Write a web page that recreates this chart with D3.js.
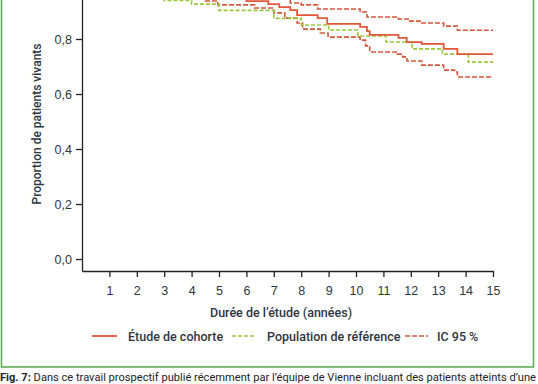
<!DOCTYPE html>
<html>
<head>
<meta charset="utf-8">
<script src="https://cdn.jsdelivr.net/npm/d3@7"></script>
<style>
  body { margin: 0; background: #fff; }
  svg { display: block; font-family: Roboto, "Noto Sans", sans-serif; }
</style>
</head>
<body>
<script>
// Courbes de survie (escaliers) : temps en années, proportion de patients vivants
const cohortT = [0, 2.0, 4.0, 6.0, 6.8, 7.2, 7.6, 7.85, 8.6, 8.95, 10.15, 10.4, 10.5, 11.55, 11.85, 12.4, 13.2, 13.7, 15];
const cohortV = [1.0, 0.98, 0.96, 0.938, 0.927, 0.916, 0.905, 0.887, 0.876, 0.855, 0.844, 0.829, 0.815, 0.804, 0.789, 0.782, 0.764, 0.745, 0.745];

const refT = [0, 1.5, 3.0, 4.0, 5.0, 7.0, 8.0, 9.0, 10.07, 11.1, 12.05, 13.15, 14.1, 15];
const refV = [1.0, 0.97, 0.94, 0.927, 0.904, 0.875, 0.851, 0.833, 0.811, 0.789, 0.764, 0.745, 0.716, 0.716];

const upperT = [0, 3.0, 6.0, 7.6, 8.0, 8.6, 10.15, 10.4, 11.55, 11.9, 12.4, 13.2, 13.7, 15];
const upperV = [1.0, 0.99, 0.97, 0.931, 0.924, 0.909, 0.898, 0.880, 0.873, 0.865, 0.858, 0.847, 0.832, 0.832];

const lowerT = [0, 1.5, 3.0, 4.5, 4.96, 6.3, 7.0, 7.4, 7.85, 8.05, 8.7, 8.98, 10.15, 10.35, 10.5, 11.5, 11.7, 11.86, 12.4, 13.2, 13.6, 13.7, 15];
const lowerV = [1.0, 0.975, 0.955, 0.938, 0.924, 0.913, 0.895, 0.876, 0.858, 0.836, 0.822, 0.807, 0.796, 0.775, 0.753, 0.745, 0.735, 0.720, 0.705, 0.687, 0.680, 0.662, 0.662];

const xTicks = [1, 2, 3, 4, 5, 6, 7, 8, 9, 10, 11, 12, 13, 14, 15];
const yTicks = [0, 0.2, 0.4, 0.6, 0.8];

const legendLabels = ["Étude de cohorte", "Population de référence", "IC 95 %"];

const width = 538, height = 384;
const red = "#e2563a", redDash = "#d4573b", green = "#9cc63c", textCol = "#2e3640";

const svg = d3.select("body").append("svg")
  .attr("width", width)
  .attr("height", height);

// cadre vert
svg.append("rect")
  .attr("x", 1.5).attr("y", -20)
  .attr("width", 532).attr("height", 387)
  .attr("fill", "none")
  .attr("stroke", "#5fae55")
  .attr("stroke-width", 1.6);

const x = d3.scaleLinear().domain([0, 15]).range([82, 493]);
const y = d3.scaleLinear().domain([-0.0436, 1.0]).range([271, -16]);

const xAxis = svg.append("g")
  .attr("transform", "translate(0,271)")
  .call(d3.axisBottom(x).tickValues(xTicks).tickSize(6).tickSizeOuter(0).tickPadding(9));

const yAxis = svg.append("g")
  .attr("transform", "translate(82,0)")
  .call(d3.axisLeft(y).tickValues(yTicks).tickSize(6).tickSizeOuter(0).tickPadding(4)
    .tickFormat(d => d3.format(".1f")(d).replace(".", ",")));

[xAxis, yAxis].forEach(g => {
  g.selectAll("path, line").attr("stroke", "#222").attr("stroke-width", 1.3);
  g.selectAll("text").attr("fill", textCol).style("font-size", "12.5px").style("font-weight", 500);
});

svg.append("text")
  .attr("transform", "translate(41,124) rotate(-90)")
  .attr("text-anchor", "middle")
  .attr("fill", textCol)
  .style("font-size", "12px")
  .style("font-weight", 500)
  .text("Proportion de patients vivants");

svg.append("text")
  .attr("x", 281).attr("y", 317)
  .attr("text-anchor", "middle")
  .attr("fill", textCol)
  .style("font-size", "12.5px")
  .style("font-weight", 500)
  .text("Durée de l’étude (années)");

const line = d3.line()
  .x(d => x(d[0]))
  .y(d => y(d[1]))
  .curve(d3.curveStepAfter);

const plot = svg.append("g");

function drawCurve(T, V, color, widthPx, dash) {
  plot.append("path")
    .datum(T.map((t, i) => [t, V[i]]))
    .attr("d", line)
    .attr("fill", "none")
    .attr("stroke", color)
    .attr("stroke-width", widthPx)
    .attr("stroke-dasharray", dash);
}

drawCurve(upperT, upperV, redDash, 1.6, "5,2");
drawCurve(lowerT, lowerV, redDash, 1.6, "5,2");
drawCurve(refT, refV, green, 1.6, "4,2");
drawCurve(cohortT, cohortV, red, 1.8, null);

// légende
const legend = [
  {x1: 92, x2: 117, tx: 128, color: red, dash: null, w: 1.8},
  {x1: 232, x2: 255, tx: 267, color: green, dash: "4,2", w: 1.6},
  {x1: 405, x2: 428, tx: 437, color: redDash, dash: "5,2", w: 1.6}
];
legend.forEach((d, i) => {
  svg.append("line")
    .attr("x1", d.x1).attr("x2", d.x2)
    .attr("y1", 336).attr("y2", 336)
    .attr("stroke", d.color)
    .attr("stroke-width", d.w)
    .attr("stroke-dasharray", d.dash);
  svg.append("text")
    .attr("x", d.tx).attr("y", 340.5)
    .attr("fill", textCol)
    .style("font-size", "12.5px")
    .style("font-weight", 500)
    .text(legendLabels[i]);
});

// légende de la figure
const cap = svg.append("text")
  .attr("x", 0).attr("y", 381)
  .attr("fill", "#1e2228")
  .style("font-size", "10.5px")
  .attr("textLength", 536)
  .attr("lengthAdjust", "spacingAndGlyphs");
cap.append("tspan").style("font-weight", "bold").text("Fig. 7: ");
cap.append("tspan").text("Dans ce travail prospectif publié récemment par l’équipe de Vienne incluant des patients atteints d’une");
</script>
</body>
</html>
